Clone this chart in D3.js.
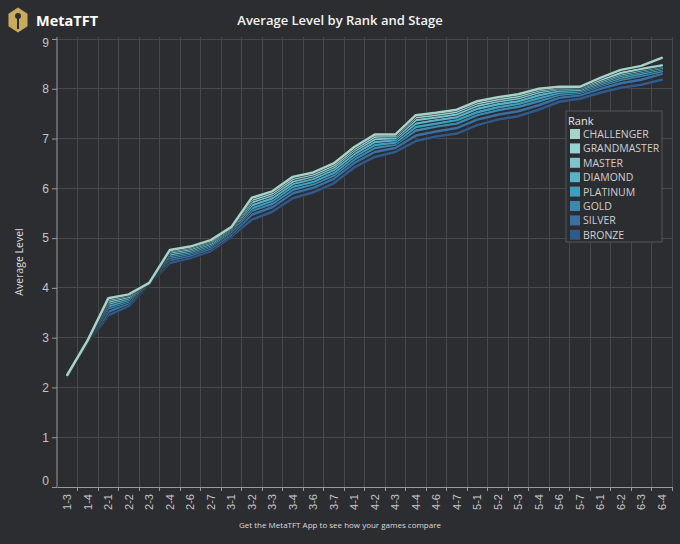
<!DOCTYPE html>
<html><head><meta charset="utf-8">
<script src="https://cdn.jsdelivr.net/npm/d3@7"></script>
<style>
html,body{margin:0;padding:0;background:#2c2d31;}
svg{display:block;font-family:"Open Sans",sans-serif;}
</style></head>
<body>
<svg id="chart" width="680" height="544"></svg>
<script>
const stages = ["1-3","1-4","2-1","2-2","2-3","2-4","2-6","2-7","3-1","3-2","3-3","3-4","3-6","3-7","4-1","4-2","4-3","4-4","4-6","4-7","5-1","5-2","5-3","5-4","5-6","5-7","6-1","6-2","6-3","6-4"];
const ranks = ["CHALLENGER","GRANDMASTER","MASTER","DIAMOND","PLATINUM","GOLD","SILVER","BRONZE"];
const rankColors = ["#a6d3c9","#97d3d0","#7cc5cf","#58b2c8","#3c9fc0","#3b89ae","#3a70a2","#2f5a8c"];
const yTicks = [0,1,2,3,4,5,6,7,8,9];

const challenger  = [2.25,2.95,3.79,3.87,4.10,4.76,4.83,4.96,5.22,5.81,5.94,6.23,6.32,6.50,6.83,7.08,7.08,7.47,7.52,7.58,7.75,7.83,7.89,8.00,8.04,8.04,8.22,8.38,8.46,8.62];
const grandmaster = [2.25,2.94,3.76,3.85,4.10,4.74,4.81,4.94,5.20,5.77,5.90,6.19,6.28,6.46,6.79,7.04,7.05,7.43,7.48,7.54,7.71,7.79,7.85,7.97,8.02,8.03,8.18,8.32,8.40,8.47];
const master      = [2.24,2.93,3.72,3.82,4.09,4.71,4.78,4.92,5.18,5.72,5.86,6.14,6.24,6.42,6.75,6.99,7.01,7.37,7.43,7.49,7.66,7.75,7.81,7.93,8.00,8.01,8.15,8.29,8.37,8.45];
const diamond     = [2.23,2.92,3.68,3.79,4.09,4.67,4.75,4.89,5.16,5.66,5.80,6.09,6.19,6.37,6.69,6.93,6.97,7.30,7.37,7.43,7.60,7.69,7.75,7.87,7.96,7.98,8.12,8.26,8.34,8.42];
const platinum    = [2.23,2.91,3.63,3.76,4.08,4.64,4.72,4.86,5.13,5.60,5.75,6.03,6.13,6.31,6.64,6.87,6.92,7.23,7.30,7.37,7.53,7.63,7.70,7.81,7.92,7.95,8.09,8.22,8.30,8.39];
const gold        = [2.22,2.90,3.59,3.73,4.08,4.60,4.69,4.83,5.11,5.55,5.69,5.97,6.08,6.26,6.58,6.81,6.88,7.16,7.24,7.30,7.47,7.57,7.64,7.75,7.88,7.92,8.06,8.18,8.26,8.35];
const silver      = [2.21,2.89,3.52,3.69,4.07,4.56,4.65,4.79,5.07,5.47,5.62,5.90,6.01,6.19,6.51,6.73,6.81,7.06,7.14,7.21,7.38,7.48,7.55,7.67,7.82,7.87,8.00,8.11,8.18,8.30];
const bronze      = [2.20,2.88,3.45,3.64,4.06,4.50,4.60,4.74,5.03,5.37,5.53,5.80,5.92,6.10,6.42,6.63,6.73,6.95,7.04,7.10,7.27,7.38,7.45,7.58,7.74,7.80,7.92,8.02,8.08,8.18];
const seriesValues = [challenger,grandmaster,master,diamond,platinum,gold,silver,bronze];

const svg = d3.select("#chart");
const W = 680, H = 544;
const x0 = 57, x1 = 672, yTop = 37, yBot = 487;

svg.append("rect").attr("width",W).attr("height",H).attr("fill","#2c2d31");

const x = d3.scaleBand().domain(stages).range([x0,x1]).padding(0);
const y = d3.scaleLinear().domain([0,9]).range([yBot,39]);

// gridlines
const grid = svg.append("g");
grid.selectAll("line.h").data(yTicks.filter(d=>d>0)).join("line")
  .attr("x1",x0).attr("x2",x1).attr("y1",d=>y(d)).attr("y2",d=>y(d))
  .attr("stroke","#47484d").attr("stroke-width",1).attr("shape-rendering","crispEdges");
grid.selectAll("line.v").data(stages).join("line")
  .attr("x1",d=>x(d)+x.bandwidth()).attr("x2",d=>x(d)+x.bandwidth())
  .attr("y1",yTop).attr("y2",yBot)
  .attr("stroke","#47484d").attr("stroke-width",1).attr("shape-rendering","crispEdges");

// axes
const yAxis = svg.append("g").attr("transform",`translate(${x0},0)`)
  .call(d3.axisLeft(y).tickValues(yTicks).tickSize(5).tickPadding(3).tickFormat(d3.format("d")));
yAxis.select(".domain").attr("d",`M0,${yTop}V${yBot}`).attr("stroke","#9a9a9e");
yAxis.selectAll(".tick line").attr("stroke","#9a9a9e");
yAxis.selectAll(".tick text").attr("fill","#c4c4c6").style("font-size","12px")
  .attr("dy",d=> d===0 ? "-0.2em" : (d===9 ? "0.65em" : "0.32em"));

const xAxis = svg.append("g").attr("transform",`translate(0,${yBot})`)
  .call(d3.axisBottom(x).tickSize(0).tickPadding(0));
xAxis.select(".domain").attr("stroke","#9a9a9e");
xAxis.selectAll(".tick text")
  .attr("fill","#c4c4c6").style("font-size","11px")
  .attr("text-anchor","end").attr("dy",null)
  .attr("transform","translate(4,7) rotate(-90)");
// tick marks at band boundaries
svg.append("g").selectAll("line").data(stages).join("line")
  .attr("x1",d=>x(d)+x.bandwidth()).attr("x2",d=>x(d)+x.bandwidth())
  .attr("y1",yBot).attr("y2",yBot+4).attr("stroke","#9a9a9e").attr("shape-rendering","crispEdges");

// lines
const line = d3.line().x((d,i)=>x(stages[i])+x.bandwidth()/2).y(d=>y(d)).curve(d3.curveLinear);
const lines = svg.append("g");
for (let k = seriesValues.length-1; k >= 0; k--) {
  lines.append("path").attr("d",line(seriesValues[k])).attr("fill","none")
    .attr("stroke","#2a2b2f").attr("stroke-width",3.6).attr("stroke-linejoin","round").attr("stroke-linecap","round");
  lines.append("path").attr("d",line(seriesValues[k])).attr("fill","none")
    .attr("stroke",rankColors[k]).attr("stroke-width",2.5).attr("stroke-linejoin","round").attr("stroke-linecap","round");
}

// title
svg.append("text").attr("x",340).attr("y",25).attr("text-anchor","middle")
  .attr("fill","#f2f2f2").style("font-size","13px").style("font-weight","600")
  .text("Average Level by Rank and Stage");

// logo
const logo = svg.append("g").attr("transform","translate(18,20)");
const hex = d3.range(6).map(i=>{const a=Math.PI/6+i*Math.PI/3;return [11*Math.cos(a),12.5*Math.sin(a)];});
logo.append("path").attr("d","M"+hex.map(p=>p.join(",")).join("L")+"Z").attr("fill","#c9ab5e");
logo.append("circle").attr("cx",0).attr("cy",-4).attr("r",3).attr("fill","#2c2d31");
logo.append("rect").attr("x",-1).attr("y",-2).attr("width",2).attr("height",11).attr("fill","#2c2d31");
svg.append("text").attr("x",36).attr("y",26).attr("fill","#ffffff")
  .style("font-size","14.5px").style("font-weight","700").text("MetaTFT");

// y title
svg.append("text").attr("transform","translate(23,262) rotate(-90)").attr("text-anchor","middle")
  .attr("fill","#dcdcdc").style("font-size","10.5px").text("Average Level");

// footer
svg.append("text").attr("x",340).attr("y",528).attr("text-anchor","middle")
  .attr("fill","#dcdcdc").style("font-size","8px").text("Get the MetaTFT App to see how your games compare");

// legend
const lg = svg.append("g").attr("transform","translate(566,111)");
lg.append("rect").attr("width",96).attr("height",131).attr("fill","#2c2d31").attr("stroke","#55565b");
lg.append("text").attr("x",2).attr("y",14).attr("fill","#e6e6e6").style("font-size","11px").text("Rank");
const items = lg.selectAll("g.item").data(ranks).join("g")
  .attr("transform",(d,i)=>`translate(4,${18+i*14.4})`);
items.append("rect").attr("width",10).attr("height",10).attr("fill",(d,i)=>rankColors[i]);
items.append("text").attr("x",13).attr("y",9).attr("fill","#cfcfd1").style("font-size","10.5px").text(d=>d);
</script>
</body></html>
